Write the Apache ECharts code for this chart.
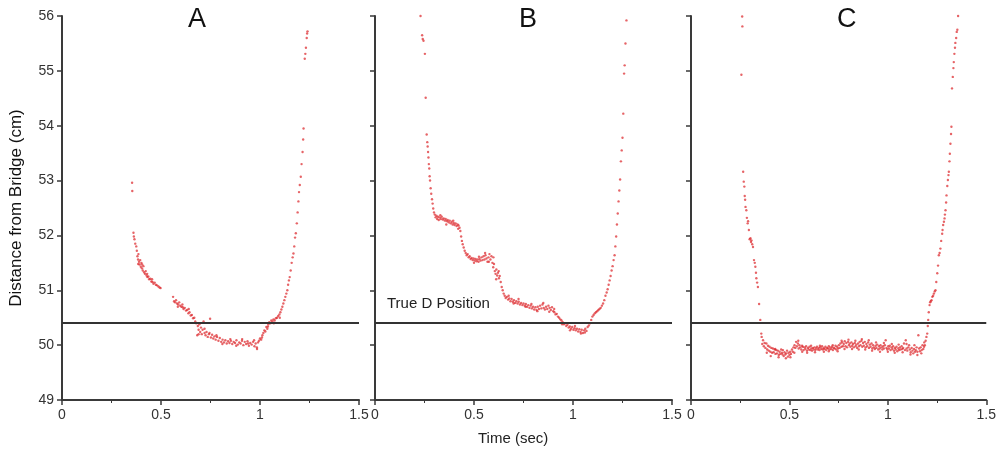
<!DOCTYPE html>
<html>
<head>
<meta charset="utf-8">
<script src="https://cdn.jsdelivr.net/npm/echarts@6/dist/echarts.min.js"></script>
<style>
html,body{margin:0;padding:0;background:#fff;}
#chart{width:999px;height:450px;}
</style>
</head>
<body>
<div id="chart"></div>
<script>
// ---------- DATA ----------
var panelTitles = ['A', 'B', 'C'];
var xTicks = [0, 0.5, 1, 1.5];
var yTicks = [49, 50, 51, 52, 53, 54, 55, 56];
var trueDPosition = 50.4;
var trueDLabel = 'True D Position';
var yAxisTitle = 'Distance from Bridge (cm)';
var xAxisTitle = 'Time (sec)';

var panelA = [
[0.354,52.96],[0.355,52.81],
[0.361,52.05],[0.363,51.98],[0.366,51.93],[0.370,51.85],[0.375,51.80],[0.378,51.72],[0.381,51.62],[0.384,51.56],[0.386,51.66],[0.389,51.52],[0.392,51.47],[0.395,51.55],[0.398,51.43],[0.401,51.50],[0.404,51.40],[0.408,51.36],[0.411,51.44],[0.415,51.33],[0.419,51.30],[0.423,51.35],[0.427,51.27],[0.431,51.24],[0.436,51.25],[0.440,51.20],[0.446,51.21],[0.451,51.16],[0.457,51.15],[0.462,51.12],[0.468,51.14],[0.474,51.10],[0.480,51.09],[0.487,51.07],[0.493,51.05],[0.498,51.04],
[0.561,50.88],[0.566,50.80],[0.571,50.78],[0.576,50.82],[0.581,50.76],[0.587,50.74],[0.592,50.78],[0.597,50.72],[0.603,50.70],[0.608,50.74],[0.614,50.66],[0.620,50.68],[0.626,50.63],[0.632,50.64],[0.638,50.58],[0.644,50.60],[0.650,50.54],[0.656,50.55],[0.662,50.49],[0.668,50.50],[0.673,50.43],[0.678,50.40],[0.683,50.18],[0.686,50.35],[0.690,50.28],[0.694,50.38],[0.698,50.24],[0.702,50.32],[0.706,50.20],[0.710,50.28],[0.715,50.43],[0.720,50.22],[0.725,50.18],[0.730,50.24],[0.736,50.15],[0.742,50.20],[0.748,50.48],[0.752,50.14],[0.758,50.19],[0.764,50.12],[0.770,50.16],[0.776,50.10],[0.783,50.15],[0.790,50.08],[0.797,50.13],[0.804,50.06],[0.811,50.10],[0.818,50.05],[0.825,50.09],[0.832,50.03],[0.839,50.07],[0.846,50.04],[0.853,50.08],[0.860,50.02],[0.867,50.06],[0.874,50.04],[0.881,50.09],[0.888,50.01],[0.895,50.05],[0.902,50.03],[0.909,50.08],[0.916,50.00],[0.923,50.06],[0.930,50.02],[0.937,50.07],[0.944,49.99],[0.951,50.04],[0.958,50.01],[0.965,50.06],[0.972,49.98],[0.978,50.03],[0.984,49.96],[0.990,50.05],[0.995,50.08],[1.000,50.12],[1.006,50.10],[1.012,50.18],[1.017,50.22],[1.022,50.27],[1.027,50.25],[1.032,50.33],[1.037,50.30],[1.042,50.38],[1.047,50.42],[1.052,50.40],[1.057,50.45],[1.063,50.43],[1.068,50.47],[1.074,50.45],[1.080,50.49],[1.086,50.50],[1.092,50.53],[1.098,50.56],[1.103,50.60],[1.108,50.65],[1.113,50.70],[1.118,50.76],[1.123,50.82],[1.128,50.88],[1.133,50.94],[1.138,51.00],[1.142,51.10],[1.146,51.18],[1.150,51.24],[1.155,51.36],[1.160,51.50],[1.165,51.60],[1.169,51.67],[1.173,51.80],[1.177,51.96],[1.181,52.04],[1.186,52.22],[1.190,52.42],[1.194,52.62],[1.197,52.79],[1.201,52.92],[1.206,53.07],[1.210,53.30],[1.215,53.52],[1.218,53.75],[1.220,53.95],[1.226,55.22],[1.229,55.31],[1.232,55.42],[1.236,55.60],[1.238,55.68],[1.240,55.72],
[0.385,51.48],[0.405,51.47],[0.430,51.30],[0.455,51.20],[0.585,50.70],[0.610,50.69],[0.640,50.66],[0.690,50.20],[0.720,50.30],[0.745,50.22],[0.780,50.18],[0.810,50.02],[0.850,50.11],[0.880,49.99],[0.910,50.11],[0.940,50.03],[0.970,50.09],[0.985,49.93],[1.010,50.14],[1.040,50.34],[1.070,50.40],[1.100,50.50]
];

var panelB = [
[0.230,56.00],[0.238,55.65],[0.241,55.58],[0.245,55.55],[0.252,55.31],[0.256,54.51],[0.261,53.84],[0.264,53.70],[0.266,53.62],[0.268,53.52],[0.270,53.42],[0.272,53.30],[0.274,53.22],[0.276,53.08],[0.278,53.00],[0.281,52.86],[0.284,52.76],[0.288,52.66],[0.291,52.58],[0.294,52.49],[0.298,52.42],[0.302,52.38],[0.306,52.33],[0.310,52.36],[0.314,52.30],[0.318,52.34],[0.322,52.28],[0.327,52.33],[0.332,52.30],[0.337,52.34],[0.342,52.29],[0.347,52.31],[0.352,52.27],[0.357,52.30],[0.362,52.26],[0.367,52.28],[0.372,52.24],[0.377,52.27],[0.382,52.22],[0.387,52.25],[0.392,52.20],[0.397,52.23],[0.402,52.19],[0.407,52.22],[0.412,52.17],[0.417,52.20],[0.422,52.18],[0.427,52.14],[0.431,52.08],[0.435,51.98],[0.439,51.90],[0.443,51.84],[0.448,51.78],[0.453,51.72],[0.458,51.68],[0.463,51.64],[0.468,51.66],[0.473,51.60],[0.478,51.62],[0.483,51.57],[0.488,51.59],[0.493,51.55],[0.498,51.58],[0.503,51.54],[0.508,51.57],[0.513,51.53],[0.518,51.56],[0.523,51.52],[0.528,51.57],[0.533,51.54],[0.538,51.60],[0.543,51.55],[0.548,51.62],[0.553,51.56],[0.558,51.64],[0.563,51.58],[0.568,51.52],[0.573,51.60],[0.578,51.66],[0.583,51.56],[0.588,51.62],[0.593,51.50],[0.597,51.42],[0.601,51.48],[0.605,51.35],[0.609,51.30],[0.613,51.38],[0.617,51.27],[0.621,51.32],[0.626,51.22],[0.630,51.26],[0.635,51.15],[0.640,51.06],[0.645,51.00],[0.650,50.94],[0.655,50.90],[0.660,50.86],[0.666,50.88],[0.672,50.83],[0.678,50.85],[0.684,50.80],[0.690,50.84],[0.696,50.79],[0.702,50.82],[0.708,50.77],[0.714,50.80],[0.720,50.76],[0.726,50.79],[0.732,50.74],[0.738,50.77],[0.744,50.73],[0.750,50.76],[0.756,50.72],[0.762,50.75],[0.768,50.70],[0.774,50.73],[0.780,50.68],[0.786,50.72],[0.792,50.67],[0.798,50.70],[0.804,50.65],[0.810,50.69],[0.816,50.64],[0.822,50.70],[0.828,50.66],[0.834,50.72],[0.840,50.67],[0.846,50.74],[0.852,50.68],[0.858,50.65],[0.864,50.70],[0.870,50.66],[0.876,50.72],[0.882,50.68],[0.888,50.64],[0.894,50.69],[0.900,50.62],[0.906,50.60],[0.912,50.56],[0.918,50.57],[0.924,50.52],[0.930,50.50],[0.936,50.47],[0.942,50.45],[0.948,50.42],[0.954,50.38],[0.960,50.40],[0.966,50.35],[0.972,50.37],[0.978,50.32],[0.984,50.34],[0.990,50.30],[0.996,50.33],[1.002,50.28],[1.008,50.31],[1.014,50.27],[1.020,50.30],[1.026,50.25],[1.032,50.29],[1.038,50.24],[1.044,50.28],[1.050,50.22],[1.056,50.27],[1.062,50.30],[1.068,50.26],[1.074,50.33],[1.080,50.36],[1.086,50.40],[1.092,50.46],[1.098,50.52],[1.104,50.55],[1.110,50.58],[1.116,50.60],[1.122,50.62],[1.128,50.64],[1.134,50.66],[1.140,50.68],[1.146,50.72],[1.152,50.76],[1.158,50.82],[1.164,50.90],[1.170,50.96],[1.175,51.02],[1.180,51.10],[1.185,51.18],[1.190,51.26],[1.195,51.36],[1.200,51.44],[1.205,51.55],[1.210,51.64],[1.214,51.80],[1.218,51.98],[1.222,52.20],[1.226,52.40],[1.230,52.62],[1.234,52.82],[1.238,53.02],[1.242,53.35],[1.246,53.55],[1.250,53.78],[1.254,54.22],[1.258,54.95],[1.261,55.10],[1.265,55.50],[1.270,55.92],
[0.330,52.37],[0.360,52.20],[0.395,52.27],[0.420,52.12],[0.500,51.50],[0.525,51.61],[0.556,51.68],[0.575,51.52],[0.598,51.60],[0.612,51.20],[0.625,51.35],[0.675,50.90],[0.700,50.76],[0.725,50.84],[0.760,50.70],[0.790,50.75],[0.820,50.62],[0.850,50.77],[0.880,50.61],[0.905,50.66],[0.945,50.38],[0.985,50.27],[1.010,50.35],[1.040,50.21],[1.060,50.23]
];

var panelC = [
[0.260,55.99],[0.261,55.81],[0.256,54.93],[0.265,53.16],[0.268,52.98],[0.271,52.89],[0.273,52.72],[0.275,52.65],[0.277,52.52],[0.281,52.46],[0.284,52.32],[0.288,52.22],[0.290,52.26],[0.294,52.10],[0.298,51.93],[0.302,51.95],[0.305,51.88],[0.307,51.91],[0.311,51.84],[0.315,51.79],[0.320,51.55],[0.324,51.50],[0.327,51.43],[0.330,51.32],[0.332,51.22],[0.336,51.14],[0.340,51.06],[0.346,50.75],[0.352,50.46],[0.357,50.21],[0.359,50.15],[0.362,50.02],[0.366,50.09],[0.370,49.98],[0.374,50.04],[0.378,49.95],[0.383,50.03],[0.387,49.92],[0.391,49.99],[0.395,49.90],[0.399,49.97],[0.403,49.88],[0.408,49.95],[0.412,49.86],[0.416,49.94],[0.420,49.87],[0.425,49.92],[0.429,49.84],[0.433,49.91],[0.437,49.85],[0.441,49.90],[0.446,49.82],[0.450,49.88],[0.454,49.84],[0.458,49.92],[0.462,49.86],[0.467,49.91],[0.471,49.80],[0.475,49.87],[0.479,49.83],[0.484,49.85],[0.488,49.90],[0.492,49.79],[0.496,49.86],[0.500,49.82],[0.504,49.88],[0.508,49.84],[0.513,49.92],[0.517,49.88],[0.521,49.96],[0.526,50.00],[0.530,49.95],[0.534,50.06],[0.538,49.98],[0.543,50.03],[0.547,49.94],[0.551,50.00],[0.555,49.96],[0.560,49.92],[0.564,49.99],[0.568,49.97],[0.572,49.91],[0.577,49.96],[0.581,49.93],[0.585,49.98],[0.589,49.90],[0.594,49.95],[0.598,49.92],[0.602,49.97],[0.606,49.91],[0.611,49.94],[0.615,49.90],[0.619,49.95],[0.623,49.92],[0.628,49.96],[0.632,49.91],[0.636,49.94],[0.640,49.97],[0.645,49.92],[0.649,49.95],[0.653,49.91],[0.657,49.96],[0.662,49.93],[0.666,49.98],[0.670,49.92],[0.674,49.95],[0.679,49.93],[0.683,49.97],[0.687,49.91],[0.691,49.95],[0.696,49.94],[0.700,49.98],[0.704,49.92],[0.708,49.96],[0.713,49.93],[0.717,49.97],[0.721,49.91],[0.725,49.95],[0.730,49.94],[0.734,49.99],[0.738,49.92],[0.742,49.97],[0.747,49.94],[0.751,50.00],[0.755,49.95],[0.759,50.03],[0.764,49.97],[0.768,50.05],[0.772,49.98],[0.776,50.02],[0.781,50.07],[0.785,49.98],[0.789,50.04],[0.793,49.96],[0.798,50.06],[0.802,50.00],[0.806,50.03],[0.810,49.97],[0.815,50.05],[0.819,49.99],[0.823,50.02],[0.827,49.96],[0.832,50.04],[0.836,49.98],[0.840,50.01],[0.844,49.95],[0.849,50.03],[0.853,49.98],[0.857,50.06],[0.861,50.00],[0.866,50.08],[0.870,49.97],[0.874,50.04],[0.878,49.99],[0.883,50.06],[0.887,49.96],[0.891,50.02],[0.895,49.98],[0.900,50.05],[0.904,49.95],[0.908,50.01],[0.912,49.97],[0.917,50.03],[0.921,49.94],[0.925,50.00],[0.929,49.96],[0.934,49.93],[0.938,49.99],[0.942,49.95],[0.946,50.01],[0.951,49.92],[0.955,49.98],[0.959,49.94],[0.963,50.00],[0.968,49.96],[0.972,49.92],[0.976,49.98],[0.980,49.94],[0.985,50.00],[0.989,50.09],[0.993,49.95],[0.997,49.92],[1.002,49.98],[1.006,49.94],[1.010,49.99],[1.014,49.91],[1.019,49.96],[1.023,49.93],[1.027,49.98],[1.031,49.90],[1.036,49.95],[1.040,49.92],[1.044,49.97],[1.048,49.89],[1.053,49.94],[1.057,49.91],[1.061,49.96],[1.065,49.92],[1.070,49.98],[1.074,49.93],[1.078,49.95],[1.082,50.03],[1.087,49.91],[1.091,50.09],[1.095,49.94],[1.099,49.90],[1.104,49.96],[1.108,50.00],[1.112,49.92],[1.116,49.87],[1.121,49.95],[1.125,49.90],[1.129,49.85],[1.133,49.93],[1.138,49.88],[1.142,49.91],[1.146,49.96],[1.150,49.88],[1.155,50.18],[1.159,49.94],[1.163,49.89],[1.167,49.96],[1.172,49.91],[1.176,50.00],[1.180,49.93],[1.184,49.97],[1.188,50.00],[1.192,50.08],[1.196,50.15],[1.200,50.21],[1.203,50.35],[1.205,50.46],[1.208,50.60],[1.212,50.73],[1.215,50.78],[1.218,50.80],[1.222,50.82],[1.226,50.88],[1.230,50.90],[1.234,50.94],[1.238,50.98],[1.242,51.00],[1.246,51.15],[1.251,51.31],[1.255,51.45],[1.259,51.64],[1.263,51.68],[1.267,51.76],[1.271,51.90],[1.276,52.03],[1.278,52.10],[1.281,52.19],[1.285,52.25],[1.288,52.31],[1.290,52.38],[1.293,52.46],[1.296,52.60],[1.298,52.73],[1.302,52.90],[1.305,53.01],[1.308,53.10],[1.310,53.16],[1.313,53.35],[1.315,53.49],[1.318,53.67],[1.321,53.85],[1.323,53.98],[1.326,54.68],[1.330,54.89],[1.333,55.05],[1.335,55.16],[1.338,55.31],[1.341,55.42],[1.343,55.51],[1.347,55.60],[1.350,55.71],[1.353,55.75],[1.357,56.00],
[0.385,49.86],[0.405,49.80],[0.428,49.93],[0.445,49.78],[0.465,49.83],[0.482,49.76],[0.505,49.78],[0.525,49.86],[0.545,50.08],[0.565,49.88],[0.590,49.86],[0.610,49.99],[0.630,49.87],[0.655,49.99],[0.675,49.88],[0.700,49.89],[0.720,50.00],[0.745,49.89],[0.765,50.08],[0.780,49.93],[0.800,50.10],[0.818,49.93],[0.835,50.08],[0.852,49.92],[0.868,50.11],[0.885,49.92],[0.903,50.09],[0.920,49.90],[0.940,50.05],[0.960,49.88],[0.980,50.04],[1.000,49.88],[1.020,50.02],[1.035,49.86],[1.055,50.01],[1.075,49.87],[1.095,50.02],[1.115,49.83],[1.135,50.00],[1.150,49.82],[1.170,49.85],[1.185,50.05]
];

// ---------- CHART ----------
var panels = [panelA, panelB, panelC];
var FONT = "'Liberation Sans', Arial, Helvetica, sans-serif";
var gridLefts = [62, 375, 691];
var gridWidth = 297;
var axisColor = '#3a3a3a';

var grids = [], xAxes = [], yAxes = [], series = [];
panels.forEach(function (data, i) {
  grids.push({ left: gridLefts[i], top: 16, width: gridWidth, height: 384, containLabel: false });
  xAxes.push({
    type: 'value', gridIndex: i, min: xTicks[0], max: xTicks[xTicks.length - 1], interval: 0.5,
    axisLine: { show: true, onZero: false, lineStyle: { color: axisColor, width: 2 } },
    axisTick: { show: true, inside: false, length: 5, lineStyle: { color: axisColor, width: 1.5 } },
    minorTick: { show: true, splitNumber: 2, length: 3, lineStyle: { color: axisColor, width: 1 } },
    axisLabel: { show: true, color: '#333', fontSize: 14, fontFamily: FONT, margin: 8,
      formatter: function (v) { return String(v); } },
    splitLine: { show: false }
  });
  yAxes.push({
    type: 'value', gridIndex: i, min: yTicks[0], max: yTicks[yTicks.length - 1], interval: 1,
    axisLine: { show: true, onZero: false, lineStyle: { color: axisColor, width: 2 } },
    axisTick: { show: true, inside: false, length: 5, lineStyle: { color: axisColor, width: 1.5 } },
    axisLabel: { show: i === 0, color: '#333', fontSize: 14, fontFamily: FONT, margin: 8 },
    splitLine: { show: false },
    name: i === 0 ? yAxisTitle : '',
    nameLocation: 'middle', nameGap: 37, nameRotate: 90,
    nameTextStyle: { color: '#111', fontSize: 17, fontFamily: FONT }
  });
  series.push({
    type: 'scatter', xAxisIndex: i, yAxisIndex: i, data: data,
    symbol: 'circle', symbolSize: 2.4,
    itemStyle: { color: 'rgba(218,28,32,0.85)' },
    silent: true,
    markLine: {
      silent: true, symbol: ['none', 'none'],
      label: { show: false },
      lineStyle: { color: '#333', width: 2, type: 'solid' },
      data: [{ yAxis: trueDPosition }]
    }
  });
});

var graphics = [];
var titleX = [197, 528, 846];
panelTitles.forEach(function (t, i) {
  graphics.push({ type: 'text', left: titleX[i] - 9, top: 6,
    style: { text: t, font: '27px ' + FONT, fill: '#111' } });
});
graphics.push({ type: 'text', left: 387, top: 296,
  style: { text: trueDLabel, font: '15px ' + FONT, fill: '#222' } });
graphics.push({ type: 'text', left: 478, top: 431,
  style: { text: xAxisTitle, font: '15px ' + FONT, fill: '#222' } });

var chart = echarts.init(document.getElementById('chart'), null, { renderer: 'canvas' });
chart.setOption({
  animation: false,
  backgroundColor: '#ffffff',
  grid: grids, xAxis: xAxes, yAxis: yAxes, series: series,
  graphic: graphics
});
</script>
</body>
</html>
